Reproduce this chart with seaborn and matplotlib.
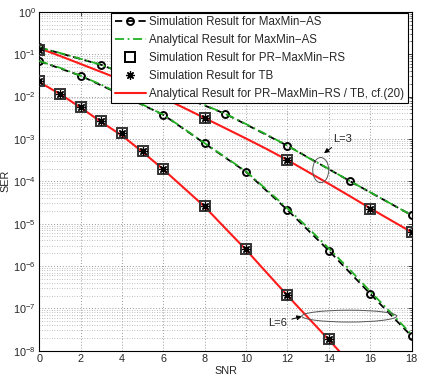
import numpy as np
import pandas as pd
import matplotlib
matplotlib.use("Agg")
import matplotlib.pyplot as plt
from matplotlib.lines import Line2D
from matplotlib.patches import Ellipse
from matplotlib.ticker import LogLocator, NullFormatter, FixedLocator
import seaborn as sns

# ---------------- data ----------------
snr = list(range(0, 19))

# Simulation, MaxMin-AS (black dashed + circles)
sim_as_L3_x = [0, 3, 6, 9, 12, 15, 18]
sim_as_L3_y = [0.145, 0.056, 0.0151, 0.0039, 6.9e-4, 1.02e-4, 1.58e-5]
sim_as_L6_x = [0, 2, 4, 6, 8, 10, 12, 14, 16, 18]
sim_as_L6_y = [0.069, 0.031, 0.0108, 0.0037, 7.8e-4, 1.66e-4, 2.1e-5, 2.3e-6, 2.2e-7, 2.2e-8]

# Analytical, MaxMin-AS (green dash-dot)
ana_as_L3 = [0.145, 0.107, 0.0776, 0.0562, 0.0372, 0.024, 0.0151, 0.0098, 0.0063, 0.0039,
             0.00224, 0.00126, 6.9e-4, 3.6e-4, 1.95e-4, 1.02e-4, 5.5e-5, 2.95e-5, 1.58e-5]
ana_as_L6 = [0.069, 0.0479, 0.0309, 0.0191, 0.011, 0.00646, 0.00372, 0.00174, 7.9e-4, 3.7e-4,
             1.7e-4, 6.3e-5, 2.3e-5, 7.9e-6, 2.6e-6, 8.3e-7, 2.5e-7, 7.9e-8, 2.4e-8]

# Simulation, PR-MaxMin-RS (squares) and TB (stars)
sim_rs_L3_x = [0, 4, 8, 12, 16, 18]
sim_rs_L3_y = [0.128, 0.0245, 3.1e-3, 3.2e-4, 2.25e-5, 6.3e-6]
sim_rs_L6_x = [0, 1, 2, 3, 4, 5, 6, 8, 10, 12, 14]
sim_rs_L6_y = [0.023, 0.0118, 0.0056, 0.0026, 0.00135, 5.1e-4, 2.0e-4, 2.6e-5, 2.5e-6, 2.1e-7, 1.9e-8]

# Analytical, PR-MaxMin-RS / TB (red solid)
ana_rs_L3 = [0.138, 0.091, 0.0589, 0.038, 0.0245, 0.0151, 0.0093, 0.0054, 0.0031, 0.00178,
             0.00102, 5.75e-4, 3.16e-4, 1.66e-4, 8.7e-5, 4.5e-5, 2.3e-5, 1.2e-5, 6.3e-6]
ana_rs_L6_x = list(range(0, 16))
ana_rs_L6 = [0.022, 0.0115, 0.0055, 0.0025, 0.0012, 4.9e-4, 1.9e-4, 6.9e-5, 2.5e-5, 7.7e-6,
             2.4e-6, 6.9e-7, 2.0e-7, 6.0e-8, 1.8e-8, 5.3e-9]

legend_labels = [
    "Simulation Result for MaxMin\u2212AS",
    "Analytical Result for MaxMin\u2212AS",
    "Simulation Result for PR\u2212MaxMin\u2212RS",
    "Simulation Result for TB",
    "Analytical Result for PR\u2212MaxMin\u2212RS / TB, cf.(20)",
]
x_ticks = [0, 2, 4, 6, 8, 10, 12, 14, 16, 18]
y_exponents = list(range(-8, 1))

# ---------------- style ----------------
sns.set_style("white")
plt.rcParams["font.family"] = ["Liberation Sans", "DejaVu Sans"]
plt.rcParams["mathtext.fontset"] = "custom"
plt.rcParams["mathtext.rm"] = "Liberation Sans"
plt.rcParams["mathtext.it"] = "Liberation Sans"
plt.rcParams["mathtext.default"] = "regular"

fig = plt.figure(figsize=(4.36, 3.82), dpi=100)
ax = fig.add_axes([0.090, 0.082, 0.854, 0.887])
ax.set_yscale("log")

GREEN = "#22b022"
RED = "#ff1a1a"
STAR = (8, 2, 0)

lw = 1.3
# red analytical
sns.lineplot(x=snr, y=ana_rs_L3, ax=ax, color=RED, lw=1.5, zorder=3)
sns.lineplot(x=ana_rs_L6_x, y=ana_rs_L6, ax=ax, color=RED, lw=1.5, zorder=3)
# black dashed simulation AS
for xs, ys in [(sim_as_L3_x, sim_as_L3_y), (sim_as_L6_x, sim_as_L6_y)]:
    sns.lineplot(x=xs, y=ys, ax=ax, color="black", lw=lw, linestyle=(0, (4, 2.5)),
                 marker="o", markersize=5, markerfacecolor="none",
                 markeredgecolor="black", markeredgewidth=1.4, zorder=4)
# green analytical AS
for ys in [ana_as_L3, ana_as_L6]:
    sns.lineplot(x=snr, y=ys, ax=ax, color=GREEN, lw=lw, linestyle=(0, (5, 2, 1, 2)), zorder=5)
# squares and stars
for xs, ys in [(sim_rs_L3_x, sim_rs_L3_y), (sim_rs_L6_x, sim_rs_L6_y)]:
    sns.lineplot(x=xs, y=ys, ax=ax, linestyle="none", marker="s", markersize=7,
                 markerfacecolor="none", markeredgecolor="#333333", markeredgewidth=1.4, zorder=6)
    sns.lineplot(x=xs, y=ys, ax=ax, linestyle="none", marker=STAR, markersize=6,
                 markerfacecolor="black", markeredgecolor="black", markeredgewidth=0.9, zorder=7)

ax.set_xlim(0, 18)
ax.set_ylim(1e-8, 1)
ax.xaxis.set_major_locator(FixedLocator(x_ticks))
ax.set_yticks([10.0 ** e for e in y_exponents])
ax.yaxis.set_minor_locator(LogLocator(base=10, subs=np.arange(2, 10), numticks=100))
ax.yaxis.set_minor_formatter(NullFormatter())
ax.set_yticklabels(["$\\mathregular{10^{%s}}$" % (str(e).replace("-", "\u2212")) for e in y_exponents])

ax.grid(True, which="major", axis="both", color="#999999", linestyle=(0, (1, 2)), lw=0.7)
ax.grid(True, which="minor", axis="y", color="#aaaaaa", linestyle=(0, (1, 2)), lw=0.6)
ax.tick_params(axis="both", which="both", direction="in", labelsize=7.8, top=True, right=True)
ax.tick_params(axis="both", which="major", length=3, width=0.6, pad=2.5)
ax.tick_params(axis="y", which="minor", length=1.5, width=0.5)
for s in ax.spines.values():
    s.set_color("black")
    s.set_linewidth(0.8)

ax.set_xlabel("SNR", fontsize=7.8, labelpad=1)
ax.set_ylabel("SER", fontsize=7.8, labelpad=2)

handles = [
    Line2D([], [], color="black", lw=lw, linestyle=(0, (4, 2.5)), marker="o", markersize=5,
           markerfacecolor="none", markeredgewidth=1.4),
    Line2D([], [], color=GREEN, lw=lw, linestyle=(0, (5, 2, 1, 2))),
    Line2D([], [], color="black", linestyle="none", marker="s", markersize=7,
           markerfacecolor="none", markeredgewidth=1.4),
    Line2D([], [], color="black", linestyle="none", marker=STAR, markersize=6, markeredgewidth=0.9),
    Line2D([], [], color=RED, lw=1.5),
]
leg = ax.legend(handles, legend_labels, loc="upper right", bbox_to_anchor=(0.99, 0.998),
                borderaxespad=0, fontsize=8.3, frameon=True, fancybox=False,
                edgecolor="black", framealpha=1, handlelength=2.7, handletextpad=0.3,
                labelspacing=0.52, borderpad=0.3)
leg.get_frame().set_linewidth(0.8)
leg.set_zorder(10)

# annotations
ax.add_patch(Ellipse((0.756, 0.533), 0.043, 0.074, transform=ax.transAxes,
                     fill=False, edgecolor="#555555", lw=0.7, zorder=8))
ax.add_patch(Ellipse((0.8325, 0.102), 0.255, 0.035, transform=ax.transAxes,
                     fill=False, edgecolor="#555555", lw=0.7, zorder=8))
ax.annotate("L=3", xy=(0.765, 0.583), xytext=(0.79, 0.624), xycoords="axes fraction",
            textcoords="axes fraction", fontsize=8, ha="left", va="center",
            arrowprops=dict(arrowstyle="-|>", color="black", lw=0.7, mutation_scale=7,
                            shrinkA=0, shrinkB=0), zorder=9)
ax.annotate("L=6", xy=(0.705, 0.101), xytext=(0.666, 0.082), xycoords="axes fraction",
            textcoords="axes fraction", fontsize=8, ha="right", va="center",
            arrowprops=dict(arrowstyle="-|>", color="black", lw=0.7, mutation_scale=7,
                            shrinkA=1, shrinkB=0), zorder=9)

fig.savefig("out.png", dpi=100)
